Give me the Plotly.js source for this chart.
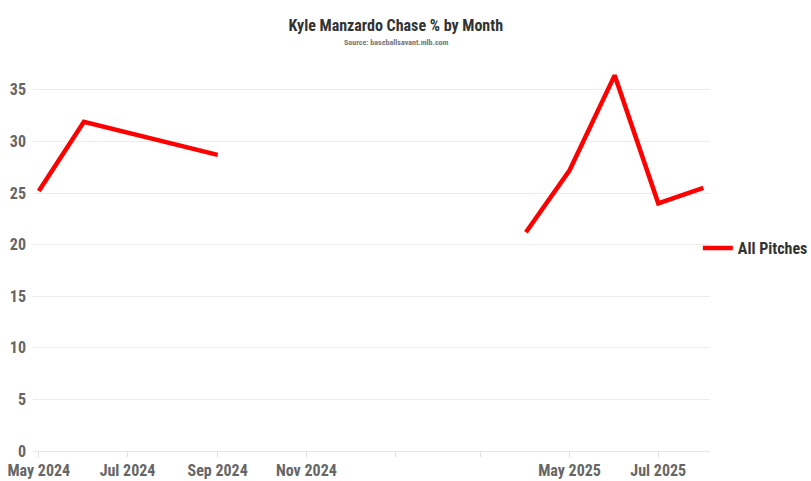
<!DOCTYPE html>
<html>
<head>
<meta charset="utf-8">
<script src="https://cdn.plot.ly/plotly-3.0.1.min.js"></script>
<style>
html,body{margin:0;padding:0;background:#fff;}
#chart{width:811px;height:481px;}
</style>
</head>
<body>
<div id="chart"></div>
<script>
const months = ['2024-05-01','2024-06-01','2024-09-01','2024-10-01','2025-04-01','2025-05-01','2025-06-01','2025-07-01','2025-08-01'];
const chasePct = [25.2, 31.9, 28.7, null, 21.2, 27.2, 36.4, 24.0, 25.5];
const seriesName = 'All Pitches';
const tickDates = ['2024-05-01','2024-07-01','2024-09-01','2024-11-01','2025-01-01','2025-03-01','2025-05-01','2025-07-01'];
const tickLabels = ['May 2024','Jul 2024','Sep 2024','Nov 2024','','','May 2025','Jul 2025'];
const yTicks = [0,5,10,15,20,25,30,35];
const titleText = 'Kyle Manzardo Chase % by Month';
const sourceText = 'Source: baseballsavant.mlb.com';

const FONT = '"Roboto Condensed", "Liberation Sans Narrow", "Arial Narrow", Roboto, sans-serif';

const trace = {
  x: months, y: chasePct, name: seriesName,
  type: 'scatter', mode: 'lines', connectgaps: false,
  line: {color: '#ff0000', width: 4.5},
  showlegend: true
};

const layout = {
  width: 811, height: 481,
  margin: {l: 33, r: 101, t: 64, b: 30, autoexpand: false},
  paper_bgcolor: '#fff', plot_bgcolor: '#fff',
  font: {family: FONT, color: '#666', size: 16, weight: 700},
  title: {
    text: titleText,
    x: 0.488, xanchor: 'center', xref: 'container',
    y: 0.948, yanchor: 'middle', yref: 'container',
    font: {family: FONT, size: 16, color: '#333', weight: 700}
  },
  annotations: [{
    text: sourceText, xref: 'paper', yref: 'paper',
    x: (396 - 33) / 677, y: 1 + (64 - 43) / 387, xanchor: 'center', yanchor: 'middle',
    showarrow: false,
    font: {family: FONT, size: 8, color: '#777', weight: 700}
  }],
  xaxis: {
    type: 'date',
    range: ['2024-04-27', '2025-08-05 14:00'],
    tickmode: 'array', tickvals: tickDates, ticktext: tickLabels,
    showgrid: false, zeroline: false,
    showline: true, linecolor: '#e3e6ee', linewidth: 1,
    ticks: 'outside', ticklen: 5, tickcolor: '#dde0e6', tickwidth: 1,
    tickfont: {family: FONT, size: 16, color: '#666', weight: 700}
  },
  yaxis: {
    range: [0, 37.5],
    tickmode: 'array', tickvals: yTicks,
    showgrid: true, gridcolor: '#ececec', gridwidth: 1,
    zeroline: false, showline: false, ticks: '',
    ticklabelstandoff: 6,
    tickfont: {family: FONT, size: 16, color: '#666', weight: 700}
  },
  legend: {
    xref: 'container', yref: 'container',
    x: 0.8605, xanchor: 'left', y: 0.484, yanchor: 'middle',
    font: {family: FONT, size: 16, color: '#333', weight: 700},
    bgcolor: 'rgba(0,0,0,0)'
  }
};

Plotly.newPlot('chart', [trace], layout, {displayModeBar: false, staticPlot: true});
</script>
</body>
</html>
